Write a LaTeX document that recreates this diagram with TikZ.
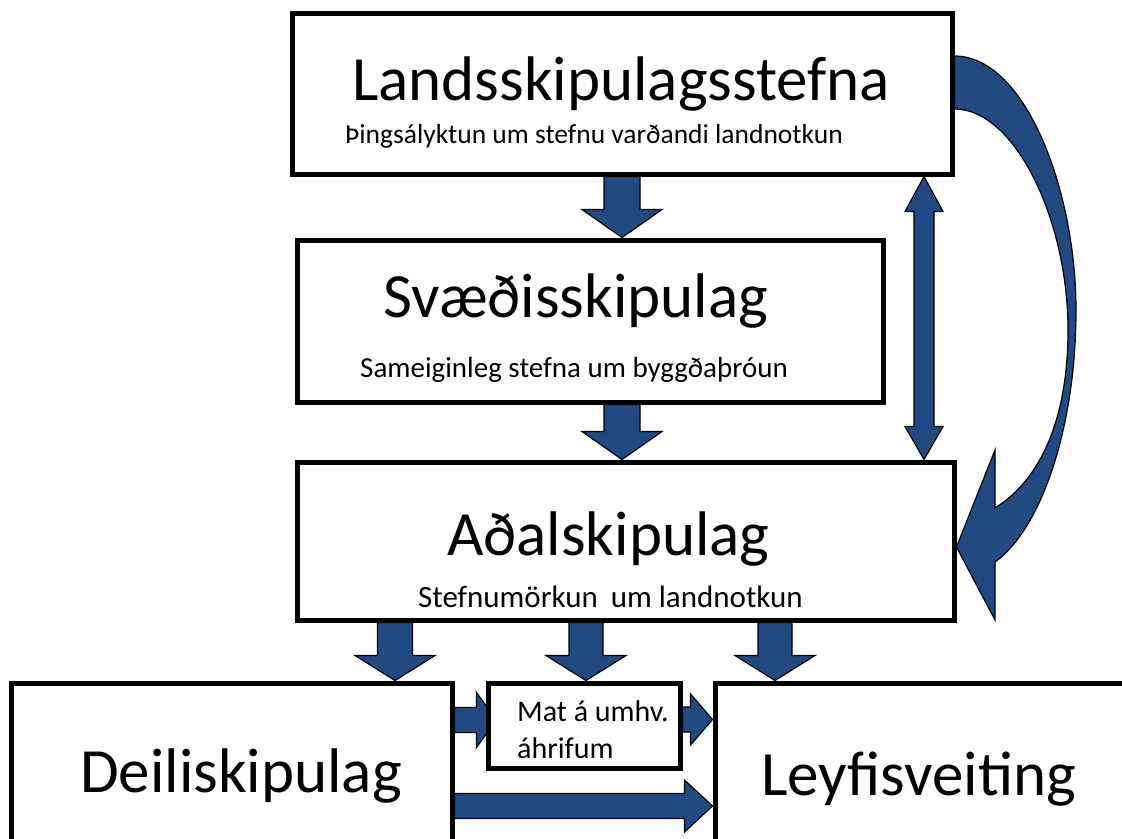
\documentclass[tikz,border=0pt]{standalone}
\usepackage{fontspec}
\setmainfont{Carlito}
\usetikzlibrary{calc,backgrounds}
\pgfdeclarelayer{paper}
\pgfsetlayers{paper,background,main}
\definecolor{arrowblue}{RGB}{34,74,130}
\tikzset{
  box/.style={draw=black, line width=5bp, fill=white, inner sep=0pt},
  blk/.style={fill=arrowblue, draw=black, line width=1.2bp, line join=miter},
  bigtxt/.style={font=\fontsize{63bp}{70bp}\selectfont, inner sep=0pt, anchor=base west},
  subtxt/.style={inner sep=0pt, anchor=base west},
}
% vertical block arrow: #1 start, #2 tip, #3 shaft half, #4 head half, #5 head length
\newcommand\vblk[5]{\path[blk] ($#1+(-#3,0)$) -- ($#2+(-#3,-#5)$) -- ($#2+(-#4,-#5)$) -- #2 -- ($#2+(#4,-#5)$) -- ($#2+(#3,-#5)$) -- ($#1+(#3,0)$) -- cycle;}
% horizontal block arrow
\newcommand\hblk[5]{\path[blk] ($#1+(0,-#3)$) -- ($#2+(-#5,-#3)$) -- ($#2+(-#5,-#4)$) -- #2 -- ($#2+(-#5,#4)$) -- ($#2+(-#5,#3)$) -- ($#1+(0,#3)$) -- cycle;}
\begin{document}
\begin{tikzpicture}[x=1bp,y=-1bp]
\useasboundingbox (0,0) rectangle (1122,839);
\begin{pgfonlayer}{paper}
\fill[white] (0,0) rectangle (1122,839);
\end{pgfonlayer}
\clip (0,0) rectangle (1122,839);
% boxes
\node[box, minimum width=659bp, minimum height=160bp] (b1) at (622.5,94) {};
\node[box, minimum width=585bp, minimum height=162bp] (b2) at (590.5,321) {};
\node[box, minimum width=656bp, minimum height=158bp] (b3) at (626,541) {};
\node[box, minimum width=192bp, minimum height=85bp] (mat) at (584,725.5) {};
\node[box, minimum width=440bp, minimum height=217bp] (deili) at (232,791.5) {};
\node[box, minimum width=485bp, minimum height=217bp] (leyfi) at (957.5,791.5) {};
% texts
\node[bigtxt] (t1) at (352,100) {Landsskipulagsstefna};
\node[subtxt, font=\fontsize{27.5bp}{32bp}\selectfont] (s1) at (345,143) {Þingsályktun um stefnu varðandi landnotkun};
\node[bigtxt] (t2) at (383,317) {Svæðisskipulag};
\node[subtxt, font=\fontsize{29bp}{34bp}\selectfont] (s2) at (360,377) {Sameiginleg stefna um byggðaþróun};
\node[bigtxt] (t3) at (447,555) {Aðalskipulag};
\node[subtxt, font=\fontsize{31bp}{36bp}\selectfont] (s3) at (418,607) {Stefnumörkun\hspace{6bp} um landnotkun};
\node[subtxt, font=\fontsize{30bp}{36bp}\selectfont] (m1) at (517,721) {Mat á umhv.};
\node[subtxt, font=\fontsize{30bp}{36bp}\selectfont] (m2) at (517,758) {áhrifum};
\node[bigtxt] (t4) at (80,792) {Deiliskipulag};
\node[bigtxt] (t5) at (761,795) {Leyfisveiting};
% arrow axis coordinates
\coordinate (xa) at (622,0);
\coordinate (xd) at (395,0);
\coordinate (xm) at (586,0);
\coordinate (xl) at (775,0);
\coordinate (xdbl) at (924,0);
\coordinate (ya) at (0,720);
\coordinate (yb) at (0,719.5);
\coordinate (yc) at (0,806);
\begin{pgfonlayer}{background}
\vblk{(b1.south -| xa)}{(b2.north -| xa)}{18}{40}{28}
\vblk{(b2.south -| xa)}{(b3.north -| xa)}{18}{40}{28}
\vblk{(b3.south -| xd)}{(deili.north -| xd)}{17.5}{40}{25}
\vblk{(b3.south -| xm)}{(mat.north -| xm)}{17}{40}{25}
\vblk{(b3.south -| xl)}{(leyfi.north -| xl)}{17}{40}{25}
% horizontal arrows
\hblk{(deili.east |- ya)}{($(mat.west |- ya)+(11,0)$)}{12.5}{27.5}{20}
\hblk{(mat.east |- yb)}{(leyfi.west |- yb)}{12.5}{25.5}{22}
\hblk{(deili.east |- yc)}{(leyfi.west |- yc)}{12.5}{26}{28}
% double arrow between b1 and b3
\coordinate (dt) at (b1.south -| xdbl);
\coordinate (db) at (b3.north -| xdbl);
\path[blk] (dt) -- ($(dt)+(19,35)$) -- ($(dt)+(10,35)$) -- ($(db)+(10,-33)$) -- ($(db)+(19,-33)$) -- (db)
  -- ($(db)+(-19,-33)$) -- ($(db)+(-10,-33)$) -- ($(dt)+(-10,35)$) -- ($(dt)+(-19,35)$) -- cycle;
% curved arrow from b1 to b3
\coordinate (cs1) at (b1.east |- 0,56);
\coordinate (cs2) at (b1.east |- 0,109);
\coordinate (ctip) at (b3.east |- 0,547);
\path[blk] (cs1) .. controls (1025,56) and (1076,190) .. (1076,310)
  .. controls (1076,430) and (1040,530) .. (995,562) -- (995,620) -- (ctip) -- (995,450) -- (995,508)
  .. controls (1040,480) and (1068,420) .. (1068,330)
  .. controls (1068,220) and (1015,109) .. (cs2) -- cycle;
\end{pgfonlayer}
\end{tikzpicture}
\end{document}
